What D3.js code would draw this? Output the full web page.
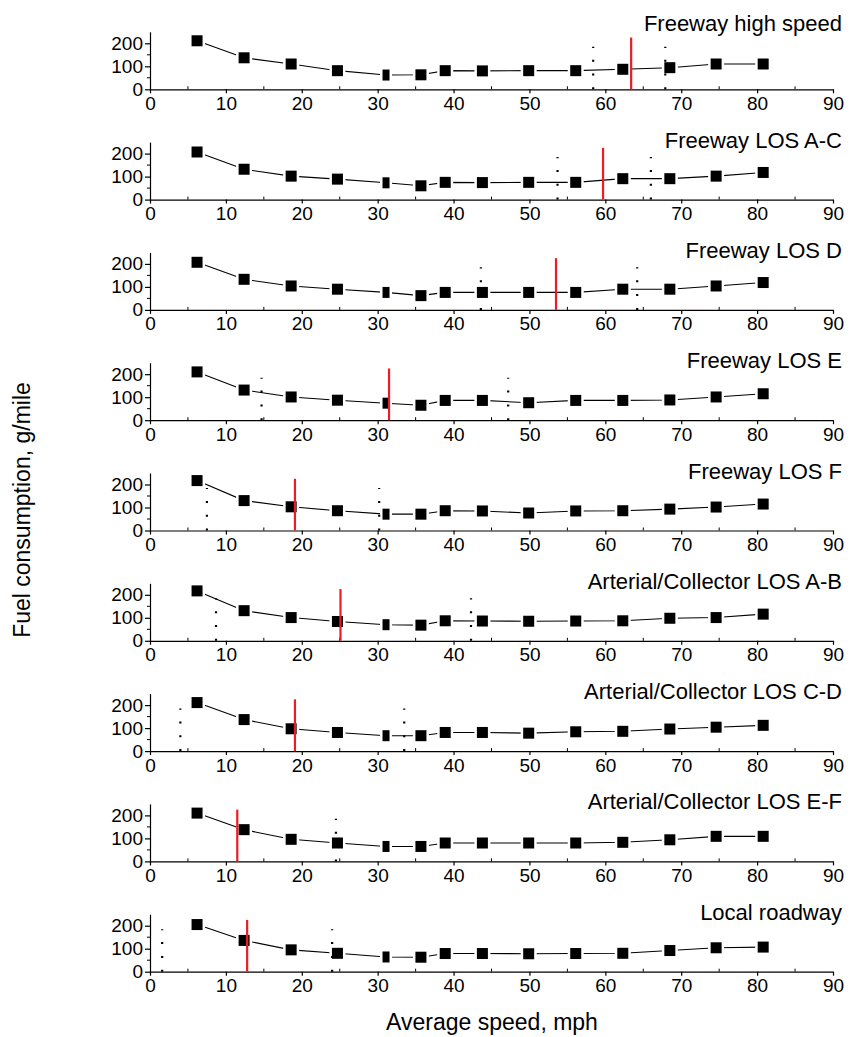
<!DOCTYPE html>
<html>
<head>
<meta charset="utf-8">
<script src="https://cdn.jsdelivr.net/npm/d3@7"></script>
<style>
  html, body { margin: 0; padding: 0; background: #fff; }
  svg { display: block; font-family: "Liberation Sans", Arial, Helvetica, sans-serif; }
</style>
</head>
<body>
<script>
// Road-type panels, top to bottom
const titles = [
  "Freeway high speed",
  "Freeway LOS A-C",
  "Freeway LOS D",
  "Freeway LOS E",
  "Freeway LOS F",
  "Arterial/Collector LOS A-B",
  "Arterial/Collector LOS C-D",
  "Arterial/Collector LOS E-F",
  "Local roadway"
];

// Average speed bins (mph)
const speeds = [6.2, 12.4, 18.6, 24.7, 31.1, 35.7, 38.9, 43.8, 49.9, 56.1, 62.3, 68.5, 74.6, 80.8];

// Fuel consumption (g/mile) per panel, one value per speed bin
const fuelFreewayHigh = [211, 137, 110, 81, 62, 63, 81, 80, 81, 81, 87, 94, 110, 110];
const fuelFreewayAC   = [207, 132, 102, 89, 73, 60, 75, 74, 75, 75, 91, 91, 102, 118];
const fuelFreewayD    = [207, 133, 104, 90, 76, 62, 76, 76, 76, 76, 90, 90, 104, 119];
const fuelFreewayE    = [210, 131, 101, 87, 74, 65, 86, 86, 76, 86, 86, 88, 101, 115];
const fuelFreewayF    = [217, 130, 103, 86, 71, 71, 86, 85, 76, 85, 86, 93, 102, 115];
const fuelArterialAB  = [217, 131, 101, 84, 70, 68, 87, 86, 85, 86, 87, 98, 101, 116];
const fuelArterialCD  = [211, 137, 97, 81, 67, 67, 81, 81, 78, 84, 86, 96, 104, 112];
const fuelArterialEF  = [210, 138, 96, 80, 65, 65, 80, 80, 80, 80, 83, 94, 109, 109];
const fuelLocal       = [205, 136, 95, 80, 64, 63, 79, 79, 78, 79, 80, 92, 104, 107];
const fuelSeries = [fuelFreewayHigh, fuelFreewayAC, fuelFreewayD, fuelFreewayE, fuelFreewayF,
                    fuelArterialAB, fuelArterialCD, fuelArterialEF, fuelLocal];

// Mean speed of each road type (red marker) and spread bounds (dotted markers), mph
const meanSpeed = [63.4, 59.7, 53.5, 31.5, 19.1, 25.1, 19.1, 11.5, 12.8];
const spreadBounds = [[58.4, 67.9], [53.7, 66.0], [43.6, 64.2], [14.7, 47.2], [7.5, 30.2],
                      [8.7, 42.3], [4.0, 33.5], [24.5], [1.6, 24.0]];

// Axis ticks
const xTicks = [0, 10, 20, 30, 40, 50, 60, 70, 80, 90];
const xMinorTicks = [5, 15, 25, 35, 45, 55, 65, 75, 85];
const yTicks = [0, 100, 200];
const yMinorTicks = [50, 150];

const W = 852, H = 1037;
const svg = d3.select("body").append("svg").attr("width", W).attr("height", H);

const x = d3.scaleLinear().domain([0, 90]).range([150, 833]);
const firstBase = 89.3, panelStep = 110.3, panelHeight = 57.5;

titles.forEach((title, i) => {
  const base = firstBase + i * panelStep;
  const y = d3.scaleLinear().domain([0, 250]).range([base, base - panelHeight]);
  const g = svg.append("g");

  // x axis
  const xa = g.append("g").attr("transform", `translate(0,${base})`)
    .call(d3.axisBottom(x).tickValues(xTicks).tickSize(4).tickPadding(3).tickSizeOuter(0));
  xa.selectAll("text").attr("font-size", 19).attr("font-family", null).attr("fill", "#000");
  xa.selectAll("line,path").attr("stroke", "#000").attr("stroke-width", 1.2);
  g.selectAll("line.xminor").data(xMinorTicks).join("line").attr("class", "xminor")
    .attr("x1", d => x(d)).attr("x2", d => x(d))
    .attr("y1", base).attr("y2", base - 3)
    .attr("stroke", "#000").attr("stroke-width", 1);

  // y axis
  const ya = g.append("g").attr("transform", `translate(${x(0)},0)`)
    .call(d3.axisLeft(y).tickValues(yTicks).tickSize(5).tickPadding(2).tickSizeOuter(0));
  ya.selectAll("text").attr("font-size", 19).attr("font-family", null).attr("fill", "#000");
  ya.selectAll("line,path").attr("stroke", "#000").attr("stroke-width", 1.2);
  g.selectAll("line.yminor").data(yMinorTicks).join("line").attr("class", "yminor")
    .attr("x1", x(0)).attr("x2", x(0) - 3)
    .attr("y1", d => y(d)).attr("y2", d => y(d))
    .attr("stroke", "#000").attr("stroke-width", 1);

  // panel title
  const lift = i === 0 ? 58 : 52;
  g.append("text").attr("x", 842).attr("y", base - lift)
    .attr("text-anchor", "end").attr("font-size", 22).attr("fill", "#000")
    .text(title);

  // fuel curve
  const pts = speeds.map((s, k) => [s, fuelSeries[i][k]]);
  const line = d3.line().x(d => x(d[0])).y(d => y(d[1]));
  g.append("path").attr("d", line(pts))
    .attr("fill", "none").attr("stroke", "#000").attr("stroke-width", 1.1);

  // square markers with a white gap around them
  g.selectAll("rect.pt").data(pts).join("rect").attr("class", "pt")
    .each(function (d, k) {
      const w = k === 4 ? 7 : 11, h = 11;
      d3.select(this)
        .attr("x", x(d[0]) - w / 2).attr("y", y(d[1]) - h / 2)
        .attr("width", w).attr("height", h);
    })
    .attr("fill", "#000").attr("stroke", "#fff").attr("stroke-width", 5)
    .attr("paint-order", "stroke");

  // spread bounds (dotted)
  g.selectAll("line.bound").data(spreadBounds[i]).join("line").attr("class", "bound")
    .attr("x1", d => x(d)).attr("x2", d => x(d))
    .attr("y1", y(0)).attr("y2", y(185))
    .attr("stroke", "#000").attr("stroke-width", 2.2)
    .attr("stroke-dasharray", "2 11.8");

  // mean speed (red)
  g.append("line")
    .attr("x1", x(meanSpeed[i])).attr("x2", x(meanSpeed[i]))
    .attr("y1", y(0)).attr("y2", y(225))
    .attr("stroke", "#ed1c24").attr("stroke-width", 2.2);
});

// shared axis titles
svg.append("text")
  .attr("transform", `translate(30,510) rotate(-90)`)
  .attr("text-anchor", "middle").attr("font-size", 23).attr("fill", "#000")
  .text("Fuel consumption, g/mile");

svg.append("text")
  .attr("x", 492).attr("y", 1030)
  .attr("text-anchor", "middle").attr("font-size", 23).attr("fill", "#000")
  .text("Average speed, mph");
</script>
</body>
</html>
